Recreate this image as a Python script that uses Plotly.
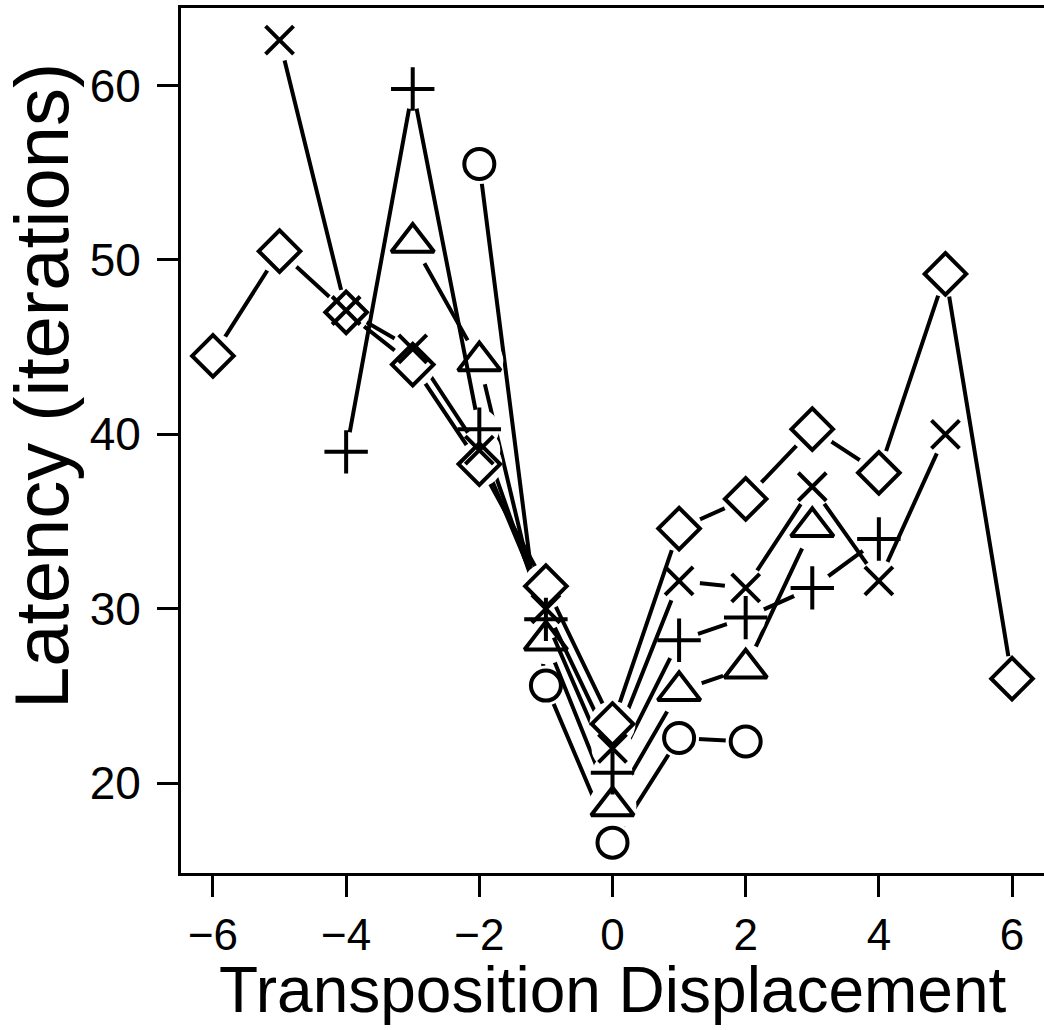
import plotly.graph_objects as go

# Data
circle_x = [-2, -1, 0, 1, 2]
circle_y = [55.5, 25.6, 16.6, 22.6, 22.4]

triangle_x = [-3, -2, -1, 0, 1, 2, 3]
triangle_y = [51.0, 44.2, 28.2, 18.7, 25.3, 26.6, 34.7]

plus_x = [-4, -3, -2, -1, 0, 1, 2, 3, 4]
plus_y = [39.0, 59.8, 40.3, 29.4, 20.6, 28.2, 29.5, 31.2, 34.0]

cross_x = [-5, -4, -3, -2, -1, 0, 1, 2, 3, 4, 5]
cross_y = [62.6, 47.1, 44.9, 39.1, 30.0, 22.0, 31.6, 31.2, 37.0, 31.6, 40.0]

diamond_x = [-6, -5, -4, -3, -2, -1, 0, 1, 2, 3, 4, 5, 6]
diamond_y = [44.5, 50.5, 47.0, 44.0, 38.3, 31.3, 23.4, 34.6, 36.3, 40.3, 37.8, 49.2, 26.0]

x_ticks = [-6, -4, -2, 0, 2, 4, 6]
x_tick_labels = ["\u22126", "\u22124", "\u22122", "0", "2", "4", "6"]
y_ticks = [20, 30, 40, 50, 60]
y_tick_labels = ["20", "30", "40", "50", "60"]

series = [
    (circle_x, circle_y, "circle-open", 30, 40),
    (triangle_x, triangle_y, "triangle-up-open", 37, 48),
    (plus_x, plus_y, "cross-thin-open", 31, 40),
    (cross_x, cross_y, "x-thin-open", 28, 42),
    (diamond_x, diamond_y, "diamond-open", 32, 46),
]

fig = go.Figure()
LW = 4

# lines with white halos (gaps around own markers, like R type="b")
for xs, ys, sym, sz, halo in series:
    fig.add_trace(go.Scatter(x=xs, y=ys, mode="lines",
                             line=dict(color="black", width=LW),
                             showlegend=False, hoverinfo="skip"))
    fig.add_trace(go.Scatter(x=xs, y=ys, mode="markers",
                             marker=dict(symbol="circle", size=halo, color="white",
                                         line=dict(width=0)),
                             showlegend=False, hoverinfo="skip"))

# markers on top
for xs, ys, sym, sz, halo in series:
    fig.add_trace(go.Scatter(x=xs, y=ys, mode="markers",
                             marker=dict(symbol=sym, size=sz, color="black",
                                         line=dict(color="black", width=LW)),
                             showlegend=False))

fig.update_layout(
    width=1044, height=1030,
    margin=dict(l=181, r=0, t=8, b=157),
    paper_bgcolor="white", plot_bgcolor="white",
    font=dict(family="Liberation Sans, Arial, sans-serif", color="black"),
    xaxis=dict(range=[-6.48, 6.48], tickvals=x_ticks, ticktext=x_tick_labels,
               showgrid=False, zeroline=False, showline=True, mirror=True,
               linecolor="black", linewidth=3, ticks="outside", ticklen=21,
               tickwidth=3, tickcolor="black", tickfont=dict(size=44),
               ticklabelstandoff=0),
    yaxis=dict(range=[14.86, 64.44], tickvals=y_ticks, ticktext=y_tick_labels,
               showgrid=False, zeroline=False, showline=True, mirror=False,
               linecolor="black", linewidth=3, ticks="outside", ticklen=21,
               tickwidth=3, tickcolor="black", tickfont=dict(size=46),
               ticklabelstandoff=7),
    annotations=[
        dict(text="Transposition Displacement", xref="paper", yref="paper",
             x=0.5, y=0, yshift=-117, xanchor="center", yanchor="middle",
             showarrow=False, font=dict(size=64)),
        dict(text="Latency (iterations)", xref="paper", yref="paper",
             x=0, xshift=-140, y=0.563, xanchor="center", yanchor="middle",
             textangle=-90, showarrow=False, font=dict(size=76)),
    ],
)

fig.write_html("out.html")
